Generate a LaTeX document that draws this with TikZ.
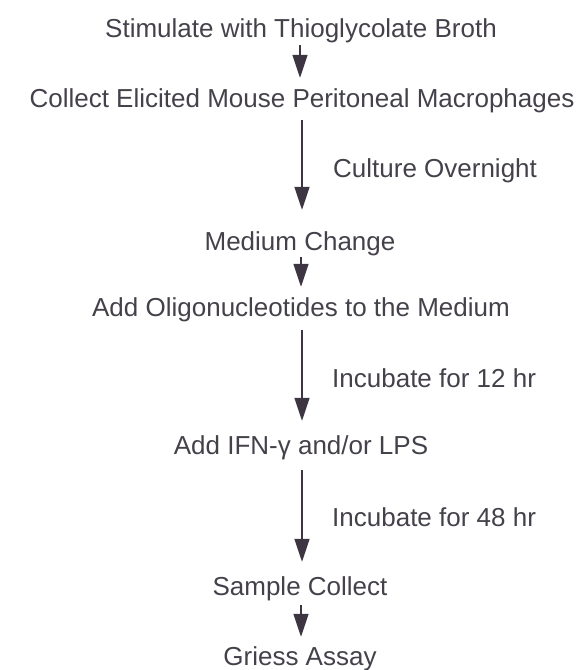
\documentclass[tikz,border=0pt]{standalone}
\usepackage{fontspec}
\setmainfont{Liberation Sans}
\usetikzlibrary{arrows.meta}
\definecolor{txt}{HTML}{45414A}
\definecolor{arrc}{HTML}{3D3541}
\begin{document}
\begin{tikzpicture}[x=1pt,y=-1pt,
  stepbox/.style={anchor=base,inner sep=0pt,text height=19pt,text depth=5pt,
    font=\fontsize{26}{30}\selectfont,text=txt},
  sidelbl/.style={anchor=base west,inner sep=0pt,font=\fontsize{26}{30}\selectfont,text=txt},
  arr/.style={draw=arrc,line width=1.6pt,-{Triangle[length=23pt,width=15pt]}}]
\useasboundingbox (0,0) rectangle (578,670);
\node[stepbox] (s1) at (301,37) {Stimulate with Thioglycolate Broth};
\node[stepbox] (s2) at (302,107) {Collect Elicited Mouse Peritoneal Macrophages};
\node[stepbox] (s3) at (300,250) {Medium Change};
\node[stepbox] (s4) at (301,316) {Add Oligonucleotides to the Medium};
\node[stepbox] (s5) at (301,454) {Add IFN-γ and/or LPS};
\node[stepbox] (s6) at (300,595) {Sample Collect};
\node[stepbox] (s7) at (300,665) {Griess Assay};
\node[sidelbl] (l1) at (333,177) {Culture Overnight};
\node[sidelbl] (l2) at (332,387) {Incubate for 12 hr};
\node[sidelbl] (l3) at (332,526) {Incubate for 48 hr};
\draw[arr,shorten <=3pt,shorten >=10pt] (s1.south -| 300,0) -- (s2.north -| 300,0);
\draw[arr,shorten <=8pt,shorten >=21pt] (s2.south -| 302,0) -- (s3.north -| 302,0);
\draw[arr,shorten <=2pt,shorten >=10pt] (s3.south -| 301,0) -- (s4.north -| 301,0);
\draw[arr,shorten <=9pt,shorten >=14pt] (s4.south -| 302,0) -- (s5.north -| 302,0);
\draw[arr,shorten <=11pt,shorten >=14pt] (s5.south -| 302,0) -- (s6.north -| 302,0);
\draw[arr,shorten <=5pt,shorten >=9pt] (s6.south -| 301,0) -- (s7.north -| 301,0);
\end{tikzpicture}
\end{document}
